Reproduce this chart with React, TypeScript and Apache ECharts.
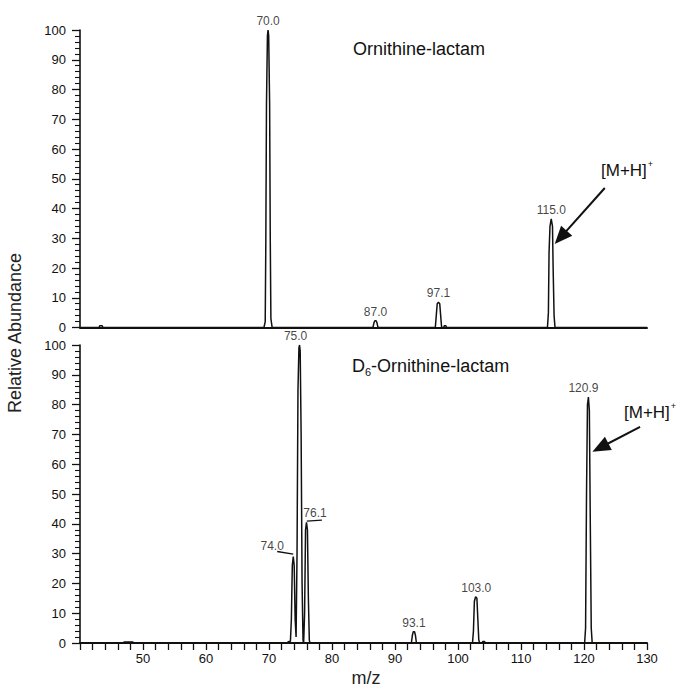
import React, { useEffect, useRef } from "react";
import * as echarts from "echarts";

// Top spectrum: Ornithine-lactam  [m/z, relative abundance]
const topSpectrum: [number, number][] = [
  [40, 0], [43.0, 0], [43.15, 0.6], [43.5, 0.6], [43.65, 0],
  [69.2, 0], [69.4, 2], [69.5, 30], [69.6, 75], [69.75, 98], [69.85, 100], [69.95, 98], [70.1, 75], [70.2, 30], [70.3, 3], [70.5, 0],
  [86.5, 0], [86.65, 1.5], [86.8, 2.3], [87.0, 2.3], [87.15, 1.5], [87.3, 0],
  [96.4, 0], [96.55, 4], [96.7, 8], [96.9, 8.5], [97.1, 8], [97.25, 4], [97.4, 0], [97.7, 0], [97.85, 0.6], [98.05, 0.6], [98.2, 0],
  [114.2, 0], [114.35, 5], [114.45, 25], [114.6, 34], [114.8, 36.5], [115.0, 34], [115.1, 20], [115.25, 4], [115.4, 0],
  [130, 0],
];

// Bottom spectrum: D6-Ornithine-lactam
const bottomSpectrum: [number, number][] = [
  [40, 0], [46.8, 0], [47.0, 0.3], [48.4, 0.3], [48.6, 0],
  [72.8, 0], [73.2, 0.5], [73.4, 0.6], [73.55, 8], [73.7, 26], [73.85, 29], [74.0, 26], [74.15, 8], [74.3, 2],
  [74.45, 30], [74.6, 85], [74.75, 99], [74.85, 100], [74.95, 98], [75.1, 70], [75.25, 20], [75.4, 1], [75.5, 0],
  [75.65, 10], [75.8, 38], [75.95, 40.5], [76.1, 38], [76.25, 15], [76.4, 1], [76.5, 0],
  [92.6, 0], [92.75, 2.5], [92.9, 3.8], [93.1, 3.8], [93.25, 2.5], [93.4, 0],
  [102.3, 0], [102.45, 4], [102.6, 14], [102.8, 15.5], [103.0, 15], [103.15, 8], [103.3, 1], [103.45, 0],
  [103.8, 0], [103.95, 0.5], [104.2, 0.5], [104.35, 0],
  [120.1, 0], [120.25, 5], [120.4, 50], [120.55, 80], [120.7, 82.5], [120.85, 78], [121.0, 40], [121.15, 5], [121.3, 0],
  [130, 0],
];

// Peak labels (text, m/z position, abundance)
const topLabels = ["70.0", "87.0", "97.1", "115.0"];
const topLabelX = [69.85, 86.9, 96.9, 114.8];
const topLabelY = [100, 2.3, 8.5, 36.5];

const bottomLabels = ["75.0", "93.1", "103.0", "120.9"];
const bottomLabelX = [74.85, 93.0, 102.9, 120.7];
const bottomLabelY = [100, 3.8, 15.5, 82.5];

// side labels with leader lines
const sideLabels = ["74.0", "76.1"];
const sideLabelX = [70.5, 77.3];
const sideLabelY = [32.6, 43.7];

const xTicks = [40, 50, 60, 70, 80, 90, 100, 110, 120, 130];

const FONT = '"Liberation Sans", Arial, sans-serif';

export default function App() {
  const ref = useRef<HTMLDivElement>(null);
  useEffect(() => {
    if (!ref.current) return;
    const chart = echarts.init(ref.current, null, { renderer: "svg" });
    const black = "#111";
    const yAxisBase = (gridIndex: number) => ({
      type: "value",
      gridIndex,
      min: 0,
      max: 100,
      interval: 10,
      axisLine: { show: true, lineStyle: { color: black, width: 1.6 } },
      axisTick: { show: true, length: 8, lineStyle: { color: black, width: 1.3 } },
      minorTick: { show: true, splitNumber: 5, length: 5, lineStyle: { color: black, width: 1.1 } },
      splitLine: { show: false },
      axisLabel: { color: black, fontSize: 13, fontFamily: FONT, margin: 14 },
    });
    const labelItems = (names: string[], xs: number[], ys: number[], offs: number[][]) =>
      names.map((n, i) => ({
        name: n,
        value: [xs[i], ys[i]],
        label: { offset: offs[i] },
      }));
    const supText = (x: number, y: number) => ({
      type: "text",
      x,
      y,
      style: {
        text: "{a|[M+H]}{s|+}",
        fill: black,
        font: `17px ${FONT}`,
        verticalAlign: "middle",
        textVerticalAlign: "middle",
        rich: {
          a: { fontSize: 17, fontFamily: FONT, fill: black, lineHeight: 22 },
          s: { fontSize: 9, fontFamily: FONT, fill: black, verticalAlign: "top", lineHeight: 22, padding: [0, 0, 10, 1] },
        },
      },
    });
    const option: any = {
      animation: false,
      grid: [
        { left: 80, top: 30, width: 567, height: 297.5 },
        { left: 80, top: 345, width: 567, height: 298 },
      ],
      xAxis: [
        {
          type: "value",
          gridIndex: 0,
          min: xTicks[0],
          max: xTicks[xTicks.length - 1],
          interval: 10,
          axisLine: { show: true, onZero: false, lineStyle: { color: black, width: 2 } },
          axisTick: { show: false },
          axisLabel: { show: false },
          splitLine: { show: false },
        },
        {
          type: "value",
          gridIndex: 1,
          min: xTicks[0],
          max: xTicks[xTicks.length - 1],
          interval: 10,
          axisLine: { show: true, onZero: false, lineStyle: { color: black, width: 2 } },
          axisTick: { show: true, length: 7, lineStyle: { color: black, width: 1.3 } },
          minorTick: { show: true, splitNumber: 5, length: 7, lineStyle: { color: black, width: 1.3 } },
          splitLine: { show: false },
          axisLabel: {
            color: black,
            fontSize: 13,
            fontFamily: FONT,
            margin: 9,
            formatter: (v: number) => (v === xTicks[0] ? "" : String(v)),
          },
        },
      ],
      yAxis: [yAxisBase(0), yAxisBase(1)],
      series: [
        {
          type: "line",
          xAxisIndex: 0,
          yAxisIndex: 0,
          data: topSpectrum,
          showSymbol: false,
          symbol: "none",
          lineStyle: { color: black, width: 1.5 },
          silent: true,
          markLine: {
            silent: true,
            animation: false,
            label: { show: false },
            lineStyle: { color: black, width: 2, type: "solid" },
            data: [
              [
                { coord: [123.3, 46.9], symbol: "none" },
                { coord: [116.3, 30.3], symbol: "triangle", symbolSize: [15, 18] },
              ],
            ],
          },
        },
        {
          type: "line",
          xAxisIndex: 1,
          yAxisIndex: 1,
          data: bottomSpectrum,
          showSymbol: false,
          symbol: "none",
          lineStyle: { color: black, width: 1.5 },
          silent: true,
          markLine: {
            silent: true,
            animation: false,
            label: { show: false },
            lineStyle: { color: black, width: 1.3, type: "solid" },
            data: [
              [
                { coord: [128.9, 72.5], symbol: "none", lineStyle: { width: 2 } },
                { coord: [122.6, 65.6], symbol: "triangle", symbolSize: [15, 18] },
              ],
              [
                { coord: [71.3, 30.7], symbol: "none" },
                { coord: [73.85, 29.8], symbol: "none" },
              ],
              [
                { coord: [76.0, 40.9], symbol: "none" },
                { coord: [78.4, 41.2], symbol: "none" },
              ],
            ],
          },
        },
        {
          type: "scatter",
          xAxisIndex: 0,
          yAxisIndex: 0,
          symbolSize: 0,
          silent: true,
          clip: false,
          label: {
            show: true,
            position: "top",
            distance: 3,
            color: black,
            fontSize: 12,
            fontFamily: FONT,
            formatter: (p: any) => p.name,
          },
          data: labelItems(topLabels, topLabelX, topLabelY, [[0, 0], [0, 0], [0, 0], [0, 0]]),
        },
        {
          type: "scatter",
          xAxisIndex: 1,
          yAxisIndex: 1,
          symbolSize: 0,
          silent: true,
          clip: false,
          label: {
            show: true,
            position: "top",
            distance: 3,
            color: black,
            fontSize: 12,
            fontFamily: FONT,
            formatter: (p: any) => p.name,
          },
          data: labelItems(bottomLabels, bottomLabelX, bottomLabelY, [[-4, 0], [0, 0], [0, 0], [-5, 0]]),
        },
        {
          type: "scatter",
          xAxisIndex: 1,
          yAxisIndex: 1,
          symbolSize: 0,
          silent: true,
          clip: false,
          label: {
            show: true,
            position: "inside",
            color: black,
            fontSize: 12,
            fontFamily: FONT,
            formatter: (p: any) => p.name,
          },
          data: labelItems(sideLabels, sideLabelX, sideLabelY, [[0, 0], [0, 0]]),
        },
      ],
      graphic: [
        {
          type: "text",
          x: 353,
          y: 49,
          style: {
            text: "Ornithine-lactam",
            fill: black,
            font: `18px ${FONT}`,
            verticalAlign: "middle",
            textVerticalAlign: "middle",
          },
        },
        {
          type: "text",
          x: 352,
          y: 366,
          style: {
            text: "{a|D}{s|6}{a|-Ornithine-lactam}",
            fill: black,
            font: `18px ${FONT}`,
            verticalAlign: "middle",
            textVerticalAlign: "middle",
            rich: {
              a: { fontSize: 18, fontFamily: FONT, fill: black, lineHeight: 22 },
              s: { fontSize: 11, fontFamily: FONT, fill: black, verticalAlign: "bottom", lineHeight: 22, padding: [8, 0, 0, 0] },
            },
          },
        },
        supText(601, 170),
        supText(624, 412),
        {
          type: "text",
          x: 15,
          y: 333,
          rotation: Math.PI / 2,
          style: {
            text: "Relative Abundance",
            fill: "#222",
            font: `18px ${FONT}`,
            align: "center",
            textAlign: "center",
            verticalAlign: "middle",
            textVerticalAlign: "middle",
          },
        },
        {
          type: "text",
          x: 366,
          y: 678,
          style: {
            text: "m/z",
            fill: "#222",
            font: `18px ${FONT}`,
            align: "center",
            textAlign: "center",
            verticalAlign: "middle",
            textVerticalAlign: "middle",
          },
        },
      ],
    };
    chart.setOption(option);
    return () => chart.dispose();
  }, []);
  return (
    <div
      ref={ref}
      style={{ position: "absolute", left: 0, top: 0, width: 681, height: 693, background: "#fff" }}
    />
  );
}
